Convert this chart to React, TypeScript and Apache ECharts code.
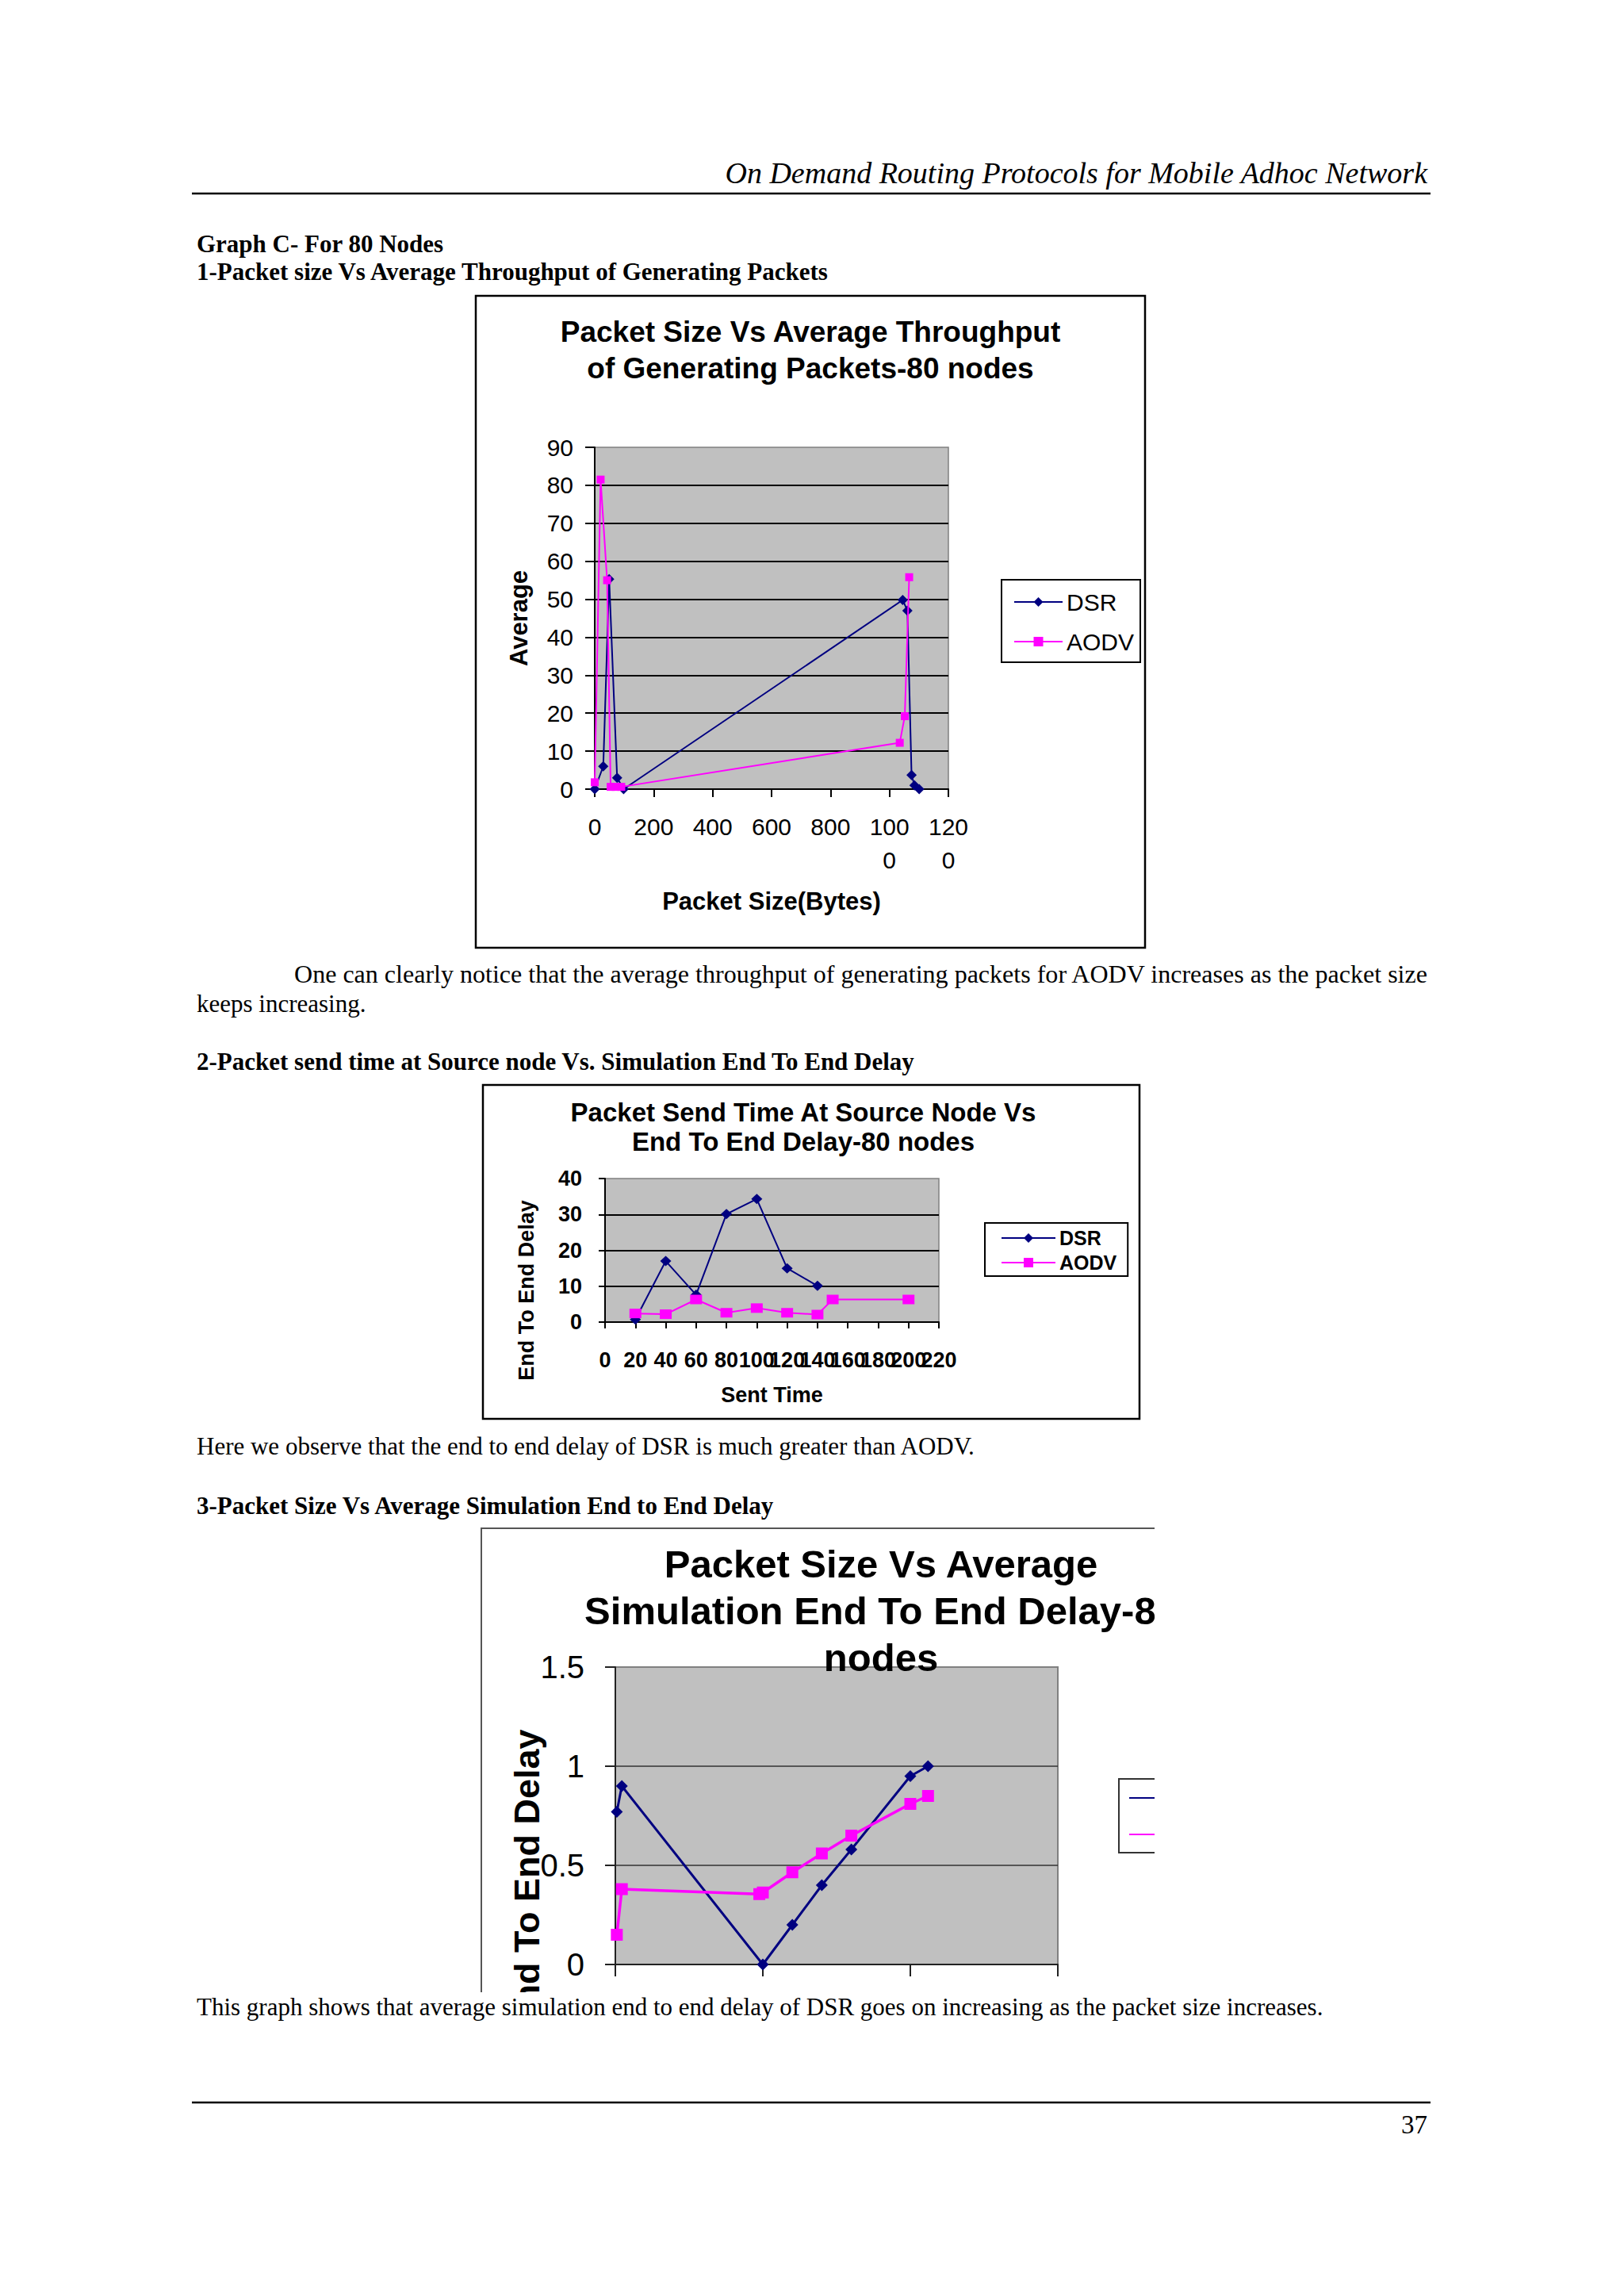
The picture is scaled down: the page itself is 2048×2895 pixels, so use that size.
import React, { useEffect, useRef } from "react";
import * as echarts from "echarts";

const SANS = "'Liberation Sans', Arial, Helvetica, sans-serif";
const SERIF = "'Liberation Serif', 'Times New Roman', Times, serif";
const NAVY = "#000080";
const PINK = "#FF00FF";
const PLOT_BG = "#C0C0C0";

const seriesNames = ["DSR", "AODV"];

// ---- Graph 1: Packet size vs average throughput ----
const c1XTickLabels = ["0", "200", "400", "600", "800", "100\n0", "120\n0"];
const c1DsrX = [0, 29, 49, 76, 98, 1045, 1061, 1075, 1085, 1101];
const c1DsrY = [0, 6, 55.3, 3, 0, 49.8, 47, 3.7, 1, 0];
const c1AodvX = [0, 20, 42, 54, 71, 90, 1035, 1052, 1067];
const c1AodvY = [1.8, 81.5, 55, 0.6, 0.6, 0.6, 12.2, 19.2, 55.8];

// ---- Graph 2: Packet send time vs end to end delay ----
const c2XTickLabels = ["0", "20", "40", "60", "80", "100", "120", "140", "160", "180", "200", "220"];
const c2DsrX = [20, 40, 60, 80, 100, 120, 140];
const c2DsrY = [0.7, 17, 7.6, 30.1, 34.3, 15, 10.1];
const c2AodvX = [20, 40, 60, 80, 100, 120, 140, 150, 200];
const c2AodvY = [2.4, 2.2, 6.3, 2.6, 3.9, 2.6, 2.1, 6.3, 6.3];

// ---- Graph 3: Packet size vs average simulation end to end delay ----
const c3DsrX = [5, 22, 500, 600, 700, 800, 1000, 1060];
const c3DsrY = [0.77, 0.9, 0, 0.2, 0.4, 0.58, 0.95, 1.0];
const c3AodvX = [5, 22, 488, 500, 600, 700, 800, 1000, 1060];
const c3AodvY = [0.15, 0.38, 0.355, 0.363, 0.465, 0.56, 0.65, 0.81, 0.85];

function pairs(xs: number[], ys: number[]) {
  return xs.map((x, i) => [x, ys[i]]);
}

function txt(t: string, x: number, y: number, o: any = {}) {
  const { rotation, scaleX, scaleY, ...style } = o;
  const el: any = {
    type: "text",
    x,
    y,
    silent: true,
    style: {
      text: t,
      fill: "#000",
      fontFamily: SERIF,
      fontSize: 31,
      align: "left",
      verticalAlign: "middle",
      textAlign: style.align || "left",
      textVerticalAlign: "middle",
      ...style,
    },
  };
  if (rotation !== undefined) el.rotation = rotation;
  if (scaleX !== undefined) el.scaleX = scaleX;
  if (scaleY !== undefined) el.scaleY = scaleY;
  return el;
}

function hline(x1: number, x2: number, y: number, w = 2.5) {
  return { type: "line", silent: true, shape: { x1, y1: y, x2, y2: y }, style: { stroke: "#000", lineWidth: w } };
}

function box(x: number, y: number, w: number, h: number, stroke = "#000", lw = 2.5) {
  return { type: "rect", silent: true, shape: { x, y, width: w, height: h }, style: { fill: "none", stroke, lineWidth: lw } };
}

const black = "#000";

const c2LabelStyle = {
  fontSize: 27, fontWeight: "bold", fontFamily: SANS, color: black, margin: 34, interval: 0,
  showMaxLabel: true, showMinLabel: true, hideOverlap: false,
};

const mainOption: any = {
  animation: false,
  backgroundColor: "#ffffff",
  graphic: [
    txt("On Demand Routing Protocols for Mobile Adhoc Network", 1800, 218, { align: "right", fontStyle: "italic", fontSize: 38 }),
    hline(242, 1804, 244),
    txt("Graph C- For 80 Nodes", 248, 307, { fontWeight: "bold" }),
    txt("1-Packet size Vs Average Throughput of Generating Packets", 248, 342, { fontWeight: "bold" }),
    txt("One can clearly notice that the average throughput of generating packets for AODV increases as the packet size", 371, 1229, { scaleX: 1.034 }),
    txt("keeps increasing.", 248, 1265),
    txt("2-Packet send time at Source node Vs. Simulation End To End Delay", 248, 1338, { fontWeight: "bold" }),
    txt("Here we observe that the end to end delay of DSR is much greater than AODV.", 248, 1823),
    txt("3-Packet Size Vs Average Simulation End to End Delay", 248, 1898, { fontWeight: "bold" }),
    txt("This graph shows that average simulation end to end delay of DSR goes on increasing as the packet size increases.", 248, 2530),
    hline(242, 1804, 2651),
    txt("37", 1800, 2679, { align: "right", fontSize: 33 }),
    // chart 1 frame + title
    box(600, 373, 844, 822),
    txt("Packet Size Vs Average Throughput\nof Generating Packets-80 nodes", 1022, 441, {
      align: "center", fontFamily: SANS, fontWeight: "bold", fontSize: 37, lineHeight: 46,
    }),
    // chart 2 frame + title + y name
    box(609, 1368, 828, 421),
    txt("Packet Send Time At Source Node Vs\nEnd To End Delay-80 nodes", 1013, 1421, {
      align: "center", fontFamily: SANS, fontWeight: "bold", fontSize: 33, lineHeight: 37,
    }),
    txt("End To End Delay", 664, 1627, {
      align: "center", fontFamily: SANS, fontWeight: "bold", fontSize: 27, rotation: Math.PI / 2,
    }),
  ],
  legend: [
    {
      data: seriesNames,
      orient: "vertical",
      left: 1263,
      top: 731,
      padding: [10, 8, 8, 15],
      itemWidth: 61,
      itemHeight: 15,
      itemGap: 14,
      borderColor: black,
      borderWidth: 2,
      backgroundColor: "#fff",
      selectedMode: false,
      textStyle: { fontSize: 30, fontFamily: SANS, color: black, lineHeight: 36 },
    },
    {
      data: seriesNames,
      orient: "vertical",
      left: 1242,
      top: 1542,
      padding: [6, 14, 4, 20],
      itemWidth: 68,
      itemHeight: 15,
      itemGap: 5,
      borderColor: black,
      borderWidth: 2,
      backgroundColor: "#fff",
      selectedMode: false,
      textStyle: { fontSize: 25, fontWeight: "bold", fontFamily: SANS, color: black, lineHeight: 26 },
    },
  ],
  grid: [
    { left: 750, top: 564, width: 446, height: 431, show: true, backgroundColor: PLOT_BG, borderColor: "#808080", borderWidth: 1.5 },
    { left: 763, top: 1486, width: 421, height: 181, show: true, backgroundColor: PLOT_BG, borderColor: "#808080", borderWidth: 1.5 },
  ],
  xAxis: [
    {
      gridIndex: 0,
      type: "value",
      min: 0,
      max: 1200,
      interval: 200,
      axisLine: { show: true, onZero: false, lineStyle: { color: black, width: 2 } },
      axisTick: { show: true, length: 10, lineStyle: { color: black, width: 2 } },
      axisLabel: {
        formatter: (v: number) => c1XTickLabels[Math.round(v / 200)] ?? "",
        fontSize: 30,
        fontFamily: SANS,
        color: black,
        margin: 26,
        lineHeight: 42,
        verticalAlign: "top",
        showMaxLabel: true,
        showMinLabel: true,
      },
      splitLine: { show: false },
      name: "Packet Size(Bytes)",
      nameLocation: "middle",
      nameGap: 126,
      nameTextStyle: { fontSize: 31, fontWeight: "bold", fontFamily: SANS, color: black },
    },
    {
      // chart 2 x axis: line, ticks and the even-indexed labels
      gridIndex: 1,
      type: "value",
      position: "bottom",
      min: 0,
      max: 220,
      interval: 20,
      axisLine: { show: true, onZero: false, lineStyle: { color: black, width: 2 } },
      axisTick: { show: true, length: 8, lineStyle: { color: black, width: 2 } },
      axisLabel: {
        ...c2LabelStyle,
        formatter: (v: number) => {
          const i = Math.round(v / 20);
          return i % 2 === 0 ? c2XTickLabels[i] ?? "" : "";
        },
      },
      splitLine: { show: false },
      name: "Sent Time",
      nameLocation: "middle",
      nameGap: 78,
      nameTextStyle: { fontSize: 27, fontWeight: "bold", fontFamily: SANS, color: black },
    },
    {
      // chart 2 x axis: odd-indexed labels (the reference's labels overlap)
      gridIndex: 1,
      type: "value",
      position: "bottom",
      offset: 0,
      min: 0,
      max: 220,
      interval: 20,
      axisLine: { show: false, onZero: false },
      axisTick: { show: false },
      axisLabel: {
        ...c2LabelStyle,
        formatter: (v: number) => {
          const i = Math.round(v / 20);
          return i % 2 === 1 ? c2XTickLabels[i] ?? "" : "";
        },
      },
      splitLine: { show: false },
    },
  ],
  yAxis: [
    {
      gridIndex: 0,
      type: "value",
      min: 0,
      max: 90,
      interval: 10,
      axisLine: { show: true, lineStyle: { color: black, width: 2 } },
      axisTick: { show: true, length: 12, lineStyle: { color: black, width: 2 } },
      axisLabel: { fontSize: 30, fontFamily: SANS, color: black, margin: 27 },
      splitLine: { show: true, showMaxLine: false, showMinLine: false, lineStyle: { color: black, width: 2 } },
      name: "Average",
      nameLocation: "middle",
      nameGap: 80,
      nameTextStyle: { fontSize: 31, fontWeight: "bold", fontFamily: SANS, color: black },
    },
    {
      gridIndex: 1,
      type: "value",
      min: 0,
      max: 40,
      interval: 10,
      axisLine: { show: true, lineStyle: { color: black, width: 2 } },
      axisTick: { show: true, length: 8, lineStyle: { color: black, width: 2 } },
      axisLabel: { fontSize: 27, fontWeight: "bold", fontFamily: SANS, color: black, margin: 29 },
      splitLine: { show: true, showMaxLine: false, showMinLine: false, lineStyle: { color: black, width: 2 } },
    },
  ],
  series: [
    {
      name: "DSR", type: "line", xAxisIndex: 0, yAxisIndex: 0, data: pairs(c1DsrX, c1DsrY),
      symbol: "diamond", symbolSize: 13, showSymbol: true, clip: false,
      lineStyle: { color: NAVY, width: 2 }, itemStyle: { color: NAVY }, z: 3,
    },
    {
      name: "AODV", type: "line", xAxisIndex: 0, yAxisIndex: 0, data: pairs(c1AodvX, c1AodvY),
      symbol: "rect", symbolSize: 10, showSymbol: true, clip: false,
      lineStyle: { color: PINK, width: 2 }, itemStyle: { color: PINK }, z: 4,
    },
    {
      name: "DSR", type: "line", xAxisIndex: 1, yAxisIndex: 1, data: pairs(c2DsrX, c2DsrY),
      symbol: "diamond", symbolSize: [14, 13], showSymbol: true, clip: false,
      lineStyle: { color: NAVY, width: 2 }, itemStyle: { color: NAVY }, z: 3,
    },
    {
      name: "AODV", type: "line", xAxisIndex: 1, yAxisIndex: 1, data: pairs(c2AodvX, c2AodvY),
      symbol: "rect", symbolSize: [15, 12], showSymbol: true, clip: false,
      lineStyle: { color: PINK, width: 2 }, itemStyle: { color: PINK }, z: 4,
    },
  ],
};

const c3Option: any = {
  animation: false,
  backgroundColor: "#ffffff",
  graphic: [
    box(2, 2, 1100, 1000, "#555", 2),
    txt("Packet Size Vs Average\nSimulation End To End Delay-80\nnodes", 506, 106, {
      align: "center", fontFamily: SANS, fontWeight: "bold", fontSize: 49, lineHeight: 59,
    }),
    txt("End To End Delay", 59, 445, {
      align: "center", fontFamily: SANS, fontWeight: "bold", fontSize: 45, rotation: Math.PI / 2,
    }),
  ],
  legend: {
    data: seriesNames,
    orient: "vertical",
    left: 806,
    top: 318,
    padding: [4, 12, 3, 12],
    itemWidth: 84,
    itemHeight: 18,
    itemGap: 6,
    borderColor: "#333",
    borderWidth: 2,
    backgroundColor: "#fff",
    selectedMode: false,
    textStyle: { fontSize: 40, fontFamily: SANS, color: black, lineHeight: 40 },
  },
  grid: { left: 171, top: 177, width: 558, height: 375, show: true, backgroundColor: PLOT_BG, borderColor: "#808080", borderWidth: 2 },
  xAxis: {
    type: "value",
    min: 0,
    max: 1500,
    interval: 500,
    axisLine: { show: true, onZero: false, lineStyle: { color: "#222", width: 2 } },
    axisTick: { show: true, length: 15, lineStyle: { color: "#222", width: 2 } },
    axisLabel: { fontSize: 40, fontFamily: SANS, color: black, margin: 44 },
    splitLine: { show: false },
  },
  yAxis: {
    type: "value",
    min: 0,
    max: 1.5,
    interval: 0.5,
    axisLine: { show: true, lineStyle: { color: "#222", width: 2 } },
    axisTick: { show: true, length: 13, lineStyle: { color: "#222", width: 2 } },
    axisLabel: { fontSize: 40, fontFamily: SANS, color: black, margin: 39 },
    splitLine: { show: true, showMaxLine: false, showMinLine: false, lineStyle: { color: "#333", width: 1.5 } },
  },
  series: [
    {
      name: "DSR", type: "line", data: pairs(c3DsrX, c3DsrY),
      symbol: "diamond", symbolSize: 15, showSymbol: true, clip: false,
      lineStyle: { color: NAVY, width: 3 }, itemStyle: { color: NAVY }, z: 3,
    },
    {
      name: "AODV", type: "line", data: pairs(c3AodvX, c3AodvY),
      symbol: "rect", symbolSize: 15, showSymbol: true, clip: false,
      lineStyle: { color: PINK, width: 3.5 }, itemStyle: { color: PINK }, z: 4,
    },
  ],
};

export default function App() {
  const mainRef = useRef<HTMLDivElement>(null);
  const c3Ref = useRef<HTMLDivElement>(null);

  useEffect(() => {
    const main = echarts.init(mainRef.current!, null, { renderer: "svg" });
    main.setOption(mainOption);
    const c3 = echarts.init(c3Ref.current!, null, { renderer: "svg" });
    c3.setOption(c3Option);
    return () => {
      main.dispose();
      c3.dispose();
    };
  }, []);

  return (
    <div style={{ position: "absolute", left: 0, top: 0, width: 2048, height: 2895, background: "#fff" }}>
      <div ref={mainRef} style={{ position: "absolute", left: 0, top: 0, width: 2048, height: 2895 }} />
      <div style={{ position: "absolute", left: 605, top: 1925, width: 851, height: 587, overflow: "hidden" }}>
        <div ref={c3Ref} style={{ position: "absolute", left: 0, top: 0, width: 1012, height: 700 }} />
      </div>
    </div>
  );
}
